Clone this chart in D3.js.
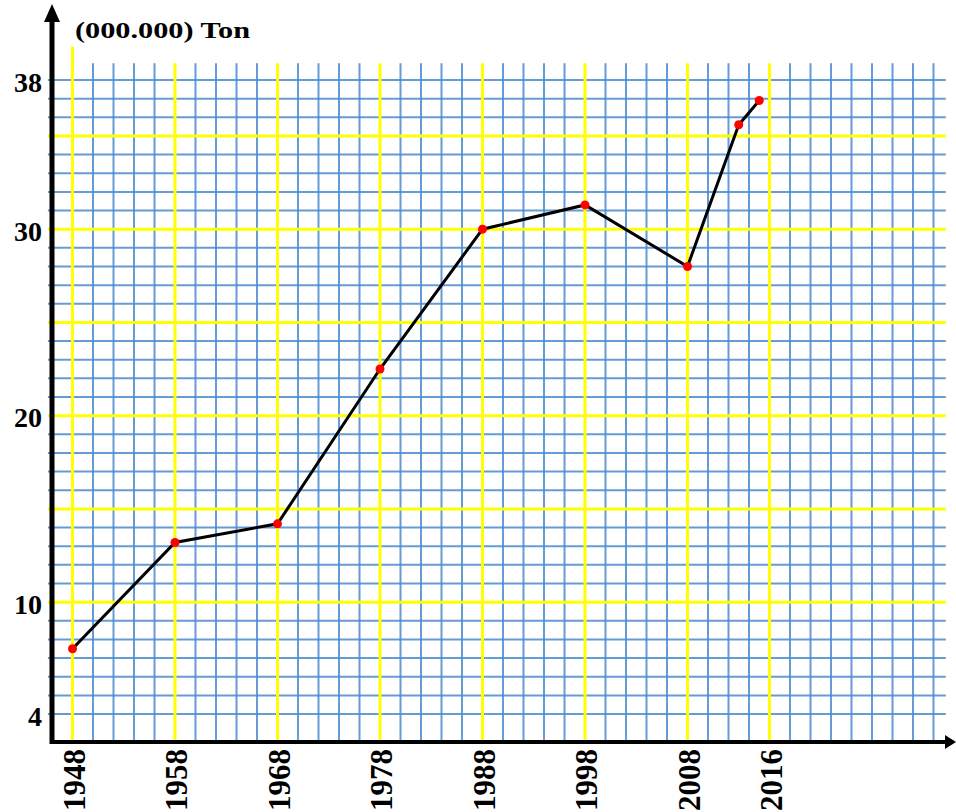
<!DOCTYPE html>
<html>
<head>
<meta charset="utf-8">
<script src="https://cdn.jsdelivr.net/npm/d3@7"></script>
<style>
  body { margin: 0; background: #fff; }
  svg { display: block; }
  .lbl text { font-family: 'Liberation Serif', 'Times New Roman', serif; font-weight: bold; fill: #000; }
</style>
</head>
<body>
<div id="my_dataviz"></div>
<script>
var years  = [1948, 1958, 1968, 1978, 1988, 1998, 2008, 2013, 2015];
var values = [7.5, 13.2, 14.2, 22.5, 30, 31.3, 28, 35.6, 36.9];
var xTicks = [1948, 1958, 1968, 1978, 1988, 1998, 2008, 2016];
var yTicks = [38, 30, 20, 10, 4];

var data = years.map(function(d, i) { return {year: d, value: values[i]}; });

var width = 956, height = 812;

var svg = d3.select("#my_dataviz")
  .append("svg")
    .attr("width", width)
    .attr("height", height);

var x = d3.scaleLinear()
  .domain([1946, 2032])
  .range([52, 933.5]);

var y = d3.scaleLinear()
  .domain([2.5, 38])
  .range([742, 80]);

// grid: blue every unit / 2 years, yellow on the labelled years and every 5 from 10
var hLines = d3.range(4, 39, 1);
var vLines = d3.range(1948, 2033, 2);
var isYellowH = function(d) { return d >= 10 && d % 5 == 0; };
var isYellowV = function(d) { return xTicks.indexOf(d) >= 0; };

var grid = svg.append("g");

grid.selectAll(".hl")
  .data(hLines.filter(function(d) { return !isYellowH(d); }))
  .enter().append("line")
    .attr("x1", x(1945.6)).attr("x2", x(2033.2))
    .attr("y1", function(d) { return y(d); })
    .attr("y2", function(d) { return y(d); })
    .attr("stroke", "#4a8bd0").attr("stroke-opacity", 0.85).attr("stroke-width", 2);

grid.selectAll(".vl")
  .data(vLines.filter(function(d) { return !isYellowV(d); }))
  .enter().append("line")
    .attr("x1", function(d) { return x(d); })
    .attr("x2", function(d) { return x(d); })
    .attr("y1", y(2.5)).attr("y2", y(38.9))
    .attr("stroke", "#4a8bd0").attr("stroke-opacity", 0.85).attr("stroke-width", 2);

grid.selectAll(".hy")
  .data(hLines.filter(isYellowH))
  .enter().append("line")
    .attr("x1", x(1945.6)).attr("x2", x(2033.2))
    .attr("y1", function(d) { return y(d); })
    .attr("y2", function(d) { return y(d); })
    .attr("stroke", "#ffff00").attr("stroke-width", 3);

grid.selectAll(".vy")
  .data(vLines.filter(isYellowV))
  .enter().append("line")
    .attr("x1", function(d) { return x(d); })
    .attr("x2", function(d) { return x(d); })
    .attr("y1", y(2.5)).attr("y2", function(d) { return d == 1948 ? y(39.8) : y(38.9); })
    .attr("stroke", "#ffff00").attr("stroke-width", 3);

// axes lines + arrows
var x0 = x(1946), y0 = y(2.5);
svg.append("line")
  .attr("x1", x0).attr("x2", x0)
  .attr("y1", y0 + 2).attr("y2", 20)
  .attr("stroke", "#000").attr("stroke-width", 5);
svg.append("path")
  .attr("d", "M" + (x0 - 8) + ",22L" + x0 + ",4L" + (x0 + 8) + ",22Z")
  .attr("fill", "#000");

svg.append("line")
  .attr("x1", x0 - 2).attr("x2", 948)
  .attr("y1", y0).attr("y2", y0)
  .attr("stroke", "#000").attr("stroke-width", 4);
svg.append("path")
  .attr("d", "M945," + (y0 - 7) + "L956," + y0 + "L945," + (y0 + 7) + "Z")
  .attr("fill", "#000");

// tick labels
svg.append("g")
  .attr("class", "lbl")
  .attr("transform", "translate(" + x0 + ",0)")
  .call(d3.axisLeft(y).tickValues(yTicks).tickSize(0).tickPadding(10))
  .call(function(g) { g.select(".domain").remove(); })
  .selectAll("text")
    .style("font-size", "28px")
    .attr("dy", "0.4em");

svg.append("g")
  .attr("class", "lbl")
  .attr("transform", "translate(0," + y0 + ")")
  .call(d3.axisBottom(x).tickValues(xTicks).tickFormat(d3.format("d")).tickSize(0))
  .call(function(g) { g.select(".domain").remove(); })
  .selectAll("text")
    .style("font-size", "31px")
    .style("text-anchor", "end")
    .attr("transform", "rotate(-90)")
    .attr("x", -7)
    .attr("y", 0)
    .attr("dy", "0.38em");

svg.append("text")
  .attr("x", 75).attr("y", 38)
  .attr("textLength", 175).attr("lengthAdjust", "spacingAndGlyphs")
  .style("font-family", "'Liberation Serif', 'Times New Roman', serif")
  .style("font-weight", "bold")
  .style("font-size", "24px")
  .text("(000.000) Ton");

// line + points
var line = d3.line()
  .x(function(d) { return x(d.year); })
  .y(function(d) { return y(d.value); });

svg.append("path")
  .datum(data)
  .attr("d", line)
  .attr("fill", "none")
  .attr("stroke", "#000")
  .attr("stroke-width", 3);

svg.selectAll(".pt")
  .data(data)
  .enter().append("circle")
    .attr("cx", function(d) { return x(d.year); })
    .attr("cy", function(d) { return y(d.value); })
    .attr("r", 4.5)
    .attr("fill", "#ff0000");
</script>
</body>
</html>
